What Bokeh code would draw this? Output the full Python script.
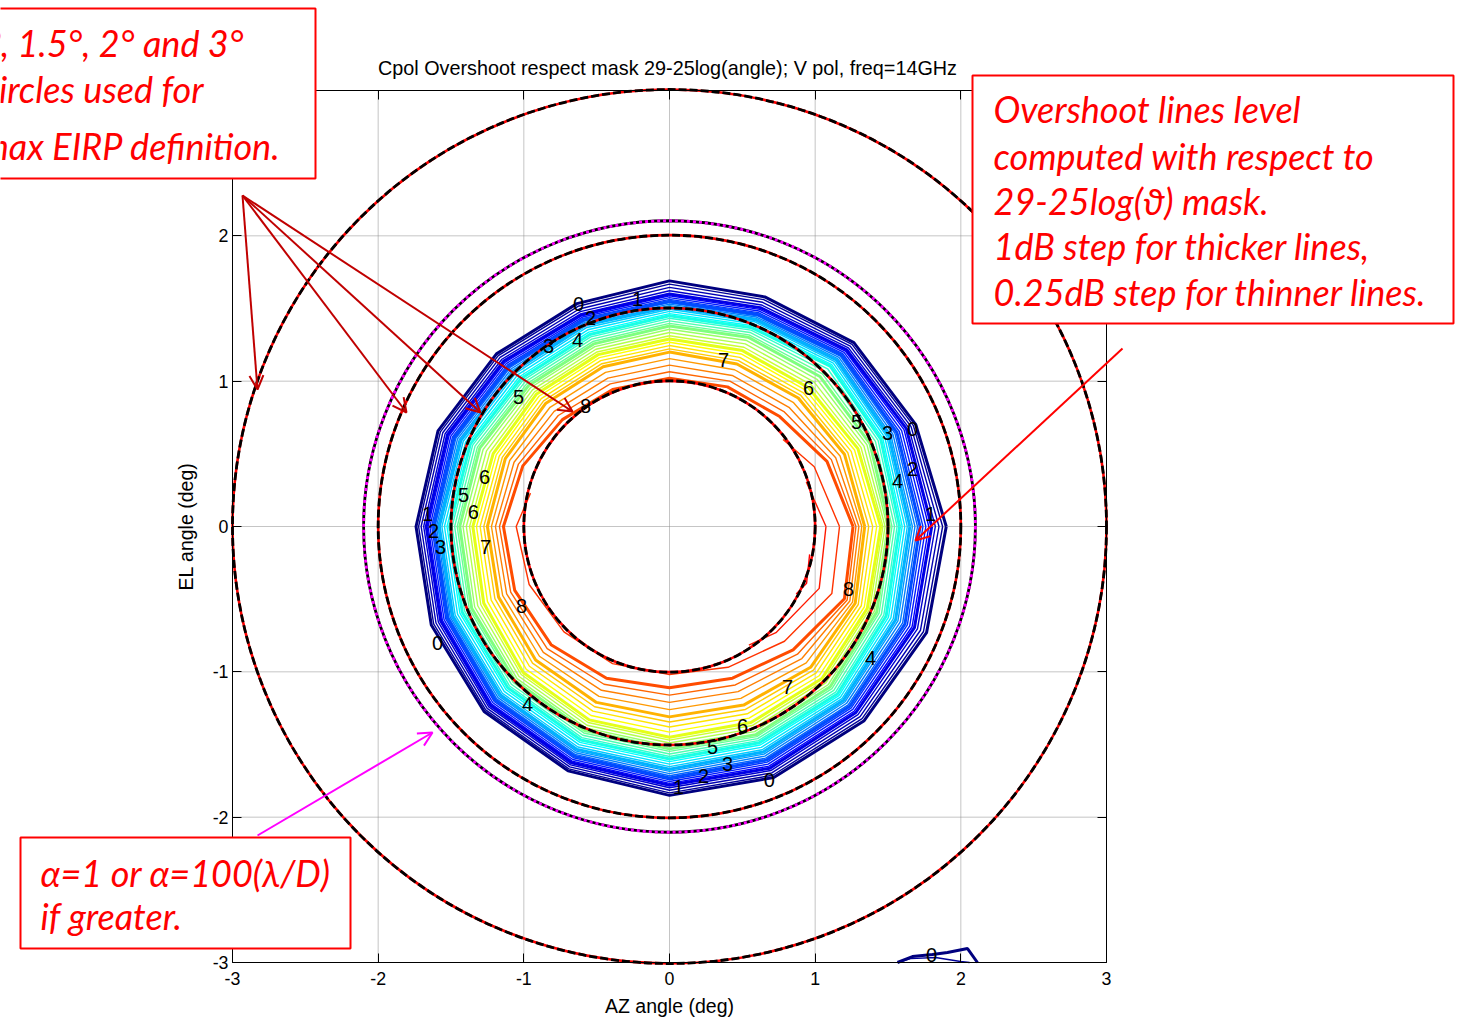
import numpy as np
import contourpy
from bokeh.plotting import figure
from bokeh.models import (Range1d, FixedTicker, LinearAxis, BoxAnnotation, Label,
                          Arrow, OpenHead, ColumnDataSource)
from bokeh.embed import file_html
from bokeh.resources import INLINE

# ---------------------------------------------------------------- data
TITLE = "Cpol Overshoot respect mask 29-25log(angle); V pol, freq=14GHz"
X_LABEL = "AZ angle (deg)"
Y_LABEL = "EL angle (deg)"
ticks = [-3, -2, -1, 0, 1, 2, 3]
tick_text = ["-3", "-2", "-1", "0", "1", "2", "3"]

# sampling directions (deg, counter-clockwise from +AZ)
angles_deg = [0, 22.5, 45, 67.5, 90, 112.5, 135, 157.5, 180,
              202.5, 225, 247.5, 270, 292.5, 315, 337.5]

# radius (deg) reached by each integer overshoot level (dB) along those directions
radii_8 = [1.26, 1.17, 1.07, 1.04, 1.02, 1.02, 1.04, 1.09, 1.14, 1.15, 1.15, 1.13, 1.11, 1.13, 1.20, 1.30]
radii_7 = [1.34, 1.30, 1.25, 1.21, 1.20, 1.19, 1.20, 1.22, 1.25, 1.27, 1.30, 1.31, 1.31, 1.33, 1.37, 1.38]
radii_6 = [1.45, 1.40, 1.35, 1.31, 1.29, 1.28, 1.29, 1.31, 1.35, 1.38, 1.42, 1.44, 1.45, 1.46, 1.48, 1.47]
radii_5 = [1.51, 1.49, 1.46, 1.41, 1.38, 1.36, 1.37, 1.41, 1.44, 1.47, 1.50, 1.52, 1.53, 1.55, 1.56, 1.54]
radii_4 = [1.58, 1.57, 1.56, 1.48, 1.45, 1.43, 1.44, 1.48, 1.51, 1.54, 1.57, 1.59, 1.60, 1.61, 1.63, 1.61]
radii_3 = [1.65, 1.63, 1.62, 1.54, 1.51, 1.50, 1.51, 1.55, 1.58, 1.61, 1.64, 1.66, 1.67, 1.68, 1.69, 1.68]
radii_2 = [1.72, 1.69, 1.67, 1.58, 1.55, 1.54, 1.56, 1.60, 1.62, 1.65, 1.69, 1.71, 1.73, 1.74, 1.75, 1.75]
radii_1 = [1.80, 1.76, 1.72, 1.63, 1.60, 1.58, 1.61, 1.65, 1.67, 1.70, 1.74, 1.76, 1.78, 1.80, 1.81, 1.82]
radii_0 = [1.90, 1.83, 1.79, 1.71, 1.69, 1.66, 1.68, 1.72, 1.74, 1.77, 1.80, 1.82, 1.85, 1.87, 1.89, 1.91]

# overshoot (dB) on the 1 deg inner edge of the evaluated region
inner_radius = 1.0
inner_level = [8.70, 8.45, 8.15, 8.05, 8.02, 8.02, 8.05, 8.15, 8.40, 8.35, 8.30, 8.30, 8.30, 8.40, 8.60, 8.80]

# second lobe entering at the bottom edge (level 0 and 0.25 dB)
lobe0_x = [1.565, 1.668, 1.805, 1.908, 2.046, 2.114]
lobe0_y = [-3.000, -2.959, -2.945, -2.931, -2.904, -3.000]
lobe1_x = [1.600, 1.654, 1.826, 1.998, 2.060]
lobe1_y = [-2.990, -2.973, -2.966, -2.993, -3.000]

# contour labels
clabel_text = ["0", "1", "2", "3", "4", "7", "5", "6", "5", "3", "0", "2", "4", "1",
               "6", "5", "6", "1", "2", "3", "7", "8", "8", "0", "4", "7", "4", "6",
               "5", "3", "2", "1", "0", "0", "8"]
clabel_x = [-0.625, -0.220, -0.542, -0.831, -0.632, 0.371, -1.037, 0.954, 1.284, 1.497,
            1.668, 1.668, 1.565, 1.792, -1.270, -1.414, -1.346, -1.661, -1.620, -1.572,
            -1.263, -1.016, 1.229, -1.593, 1.380, 0.810, -0.975, 0.501, 0.295, 0.398,
            0.233, 0.062, 0.686, 1.799, -0.577]
clabel_y = [1.528, 1.562, 1.438, 1.239, 1.280, 1.149, 0.894, 0.950, 0.722, 0.640,
            0.674, 0.399, 0.310, 0.089, 0.344, 0.220, 0.103, 0.083, -0.034, -0.138,
            -0.138, -0.550, -0.433, -0.805, -0.908, -1.101, -1.218, -1.376, -1.514, -1.631,
            -1.720, -1.789, -1.741, -2.945, 0.826]

# EIRP definition circles (deg) and the alpha circle
circle_radii = [1.0, 1.5, 2.0, 3.0]
alpha_radius = [2.1]

# ---------------------------------------------------------------- contour field
level_rows = [radii_8, radii_7, radii_6, radii_5, radii_4, radii_3, radii_2, radii_1, radii_0]
row_values = [8, 7, 6, 5, 4, 3, 2, 1, 0]

th = np.deg2rad(np.array(angles_deg + [360.0]))
R = [np.full(len(angles_deg), inner_radius)] + [np.array(r, float) for r in level_rows]
Zr = [np.array(inner_level, float)] + [np.full(len(angles_deg), float(v)) for v in row_values]
R = np.array([np.append(r, r[0]) for r in R])
Z = np.array([np.append(z, z[0]) for z in Zr])
X = R * np.cos(th)[None, :]
Y = R * np.sin(th)[None, :]

gen = contourpy.contour_generator(X, Y, Z)


def jet(t):
    r = np.clip(1.5 - abs(4 * t - 3), 0, 1)
    g = np.clip(1.5 - abs(4 * t - 2), 0, 1)
    b = np.clip(1.5 - abs(4 * t - 1), 0, 1)
    return "#%02x%02x%02x" % (int(r * 255), int(g * 255), int(b * 255))


thin = dict(xs=[], ys=[], c=[])
thick = dict(xs=[], ys=[], c=[])
for lev in np.arange(0, 9.0, 0.25):
    target = thick if abs(lev - round(lev)) < 1e-9 else thin
    for seg in gen.lines(lev + 1e-6):
        if len(seg) < 2:
            continue
        target["xs"].append(seg[:, 0].tolist())
        target["ys"].append(seg[:, 1].tolist())
        target["c"].append(jet(lev / 10.0))

# ---------------------------------------------------------------- page geometry
W, H = 1458, 1019
BOX_L, BOX_R, BOX_T, BOX_B = 232, 1106, 90, 962   # pixel edges of the axes box


def fx(px):
    return (px - BOX_L) / (BOX_R - BOX_L) * 6 - 3


def fy(py):
    return 3 - (py - BOX_T) / (BOX_B - BOX_T) * 6


FONT = "Liberation Sans"
p = figure(width=W, height=H,
           x_range=Range1d(fx(0), fx(W)), y_range=Range1d(fy(H), fy(0)),
           min_border=0, min_border_left=0, min_border_right=0,
           min_border_top=0, min_border_bottom=0,
           x_axis_location=None, y_axis_location=None,
           output_backend="svg", toolbar_location=None, title=None,
           background_fill_color="white", border_fill_color="white")
p.outline_line_color = None
p.grid.visible = False

lo, hi = ticks[0], ticks[-1]

# dotted grid inside the axes box, one line per tick
p.segment(x0=ticks, y0=[lo] * len(ticks), x1=ticks, y1=[hi] * len(ticks),
          line_color="#8a8a8a", line_dash="1 1", line_width=1)
p.segment(x0=[lo] * len(ticks), y0=ticks, x1=[hi] * len(ticks), y1=ticks,
          line_color="#8a8a8a", line_dash="1 1", line_width=1)

# box axes pinned to the edges of the [-3, 3] square
ax_bottom = LinearAxis(fixed_location=lo, axis_label=X_LABEL)
ax_top = LinearAxis(fixed_location=hi)
ax_left = LinearAxis(fixed_location=lo, axis_label=Y_LABEL)
ax_right = LinearAxis(fixed_location=hi)
p.add_layout(ax_bottom, "below")
p.add_layout(ax_top, "above")
p.add_layout(ax_left, "left")
p.add_layout(ax_right, "right")

for ax in [ax_bottom, ax_top, ax_left, ax_right]:
    ax.ticker = FixedTicker(ticks=ticks)
    ax.bounds = (lo, hi)
    ax.major_tick_in = 9
    ax.major_tick_out = 0
    ax.minor_tick_in = 0
    ax.minor_tick_out = 0
    ax.axis_line_color = "black"
    ax.axis_line_width = 1
    ax.major_tick_line_color = "black"
    ax.major_label_text_font = FONT
    ax.major_label_text_font_size = "17.8px"
    ax.major_label_text_color = "black"
    ax.axis_label_text_font = FONT
    ax.axis_label_text_font_size = "19.5px"
    ax.axis_label_text_font_style = "normal"
    ax.axis_label_text_color = "black"
    ax.major_label_overrides = dict(zip(ticks, tick_text))

for ax in [ax_top, ax_right]:
    ax.major_label_overrides = {t: "" for t in ticks}
    ax.major_label_standoff = 0

ax_bottom.major_label_standoff = 9
ax_bottom.axis_label_standoff = 7
ax_left.major_label_standoff = 4
ax_left.axis_label_standoff = 13

# title
p.add_layout(Label(x=fx(667), y=fy(67), text=TITLE, text_font=FONT, text_font_size="19.8px",
                   text_color="black", text_align="center", text_baseline="middle"))

# contour lines: 0.25 dB thin, 1 dB thick
p.multi_line(xs="xs", ys="ys", line_color="c", line_width=1.4,
             source=ColumnDataSource(thin))
p.multi_line(xs="xs", ys="ys", line_color="c", line_width=3.0,
             source=ColumnDataSource(thick))
p.line(lobe1_x, lobe1_y, line_color=jet(0.025), line_width=1.4)
p.line(lobe0_x, lobe0_y, line_color=jet(0.0), line_width=3.0)

# EIRP circles: red under black dashes
csrc = ColumnDataSource(dict(x=[0.0] * len(circle_radii), y=[0.0] * len(circle_radii), r=circle_radii))
p.circle(x="x", y="y", radius="r", source=csrc, fill_color=None, line_color="#ff0000", line_width=2.6)
p.circle(x="x", y="y", radius="r", source=csrc, fill_color=None, line_color="black",
         line_width=2.8, line_dash="8 3")
asrc = ColumnDataSource(dict(x=[0.0], y=[0.0], r=alpha_radius))
p.circle(x="x", y="y", radius="r", source=asrc, fill_color=None, line_color="black", line_width=2.8)
p.circle(x="x", y="y", radius="r", source=asrc, fill_color=None, line_color="#ff00ff",
         line_width=2.8, line_dash="3 3")

# contour labels
for t, x, y in zip(clabel_text, clabel_x, clabel_y):
    p.add_layout(Label(x=x, y=y, text=t, text_font=FONT, text_font_size="20px",
                       text_color="black", text_align="center", text_baseline="middle"))

# ---------------------------------------------------------------- call-out notes
NOTE_FONT = "Lato"
NOTE_SIZE = "36px"
RED = "#ff0000"
DARK_RED = "#c00000"

for (l, r, t, b) in [(-20, 315, 8, 178), (972, 1453, 75, 323), (20, 350, 837, 948)]:
    p.add_layout(BoxAnnotation(left=fx(l), right=fx(r), top=fy(t), bottom=fy(b),
                               fill_color="white", fill_alpha=1.0,
                               line_color=RED, line_width=2, line_alpha=1.0))

notes_left = [("1°, 1.5°, 2° and 3°", 243, 42), ("circles used for", 203, 88),
              ("max EIRP definition.", 280, 145)]
for txt, xr, yc in notes_left:
    p.add_layout(Label(x=fx(xr), y=fy(yc), text=txt, text_font=NOTE_FONT,
                       text_font_size=NOTE_SIZE, text_font_style="italic",
                       text_color=RED, text_align="right", text_baseline="middle"))

notes_right = [("Overshoot lines level", 108), ("computed with respect to", 155),
               ("29-25log(ϑ) mask.", 200), ("1dB step for thicker lines,", 245),
               ("0.25dB step for thinner lines.", 291)]
for txt, yc in notes_right:
    p.add_layout(Label(x=fx(993), y=fy(yc), text=txt, text_font=NOTE_FONT,
                       text_font_size=NOTE_SIZE, text_font_style="italic",
                       text_color=RED, text_align="left", text_baseline="middle"))

notes_bottom = [("α=1 or α=100(λ/D)", 872), ("if greater.", 915)]
for txt, yc in notes_bottom:
    p.add_layout(Label(x=fx(40), y=fy(yc), text=txt, text_font=NOTE_FONT,
                       text_font_size=NOTE_SIZE, text_font_style="italic",
                       text_color=RED, text_align="left", text_baseline="middle"))

for (ex, ey) in [(257, 389), (406, 412), (480, 412), (572, 411)]:
    p.add_layout(Arrow(x_start=fx(242), y_start=fy(195), x_end=fx(ex), y_end=fy(ey),
                       line_color=DARK_RED, line_width=2,
                       end=OpenHead(size=14, line_color=DARK_RED, line_width=2)))
p.add_layout(Arrow(x_start=fx(257), y_start=fy(835), x_end=fx(432), y_end=fy(732),
                   line_color="#ff00ff", line_width=2,
                   end=OpenHead(size=14, line_color="#ff00ff", line_width=2)))
p.add_layout(Arrow(x_start=fx(1122), y_start=fy(348), x_end=fx(915), y_end=fy(540),
                   line_color=RED, line_width=2,
                   end=OpenHead(size=14, line_color=RED, line_width=2)))

open("out.html", "w").write(file_html(p, INLINE))
